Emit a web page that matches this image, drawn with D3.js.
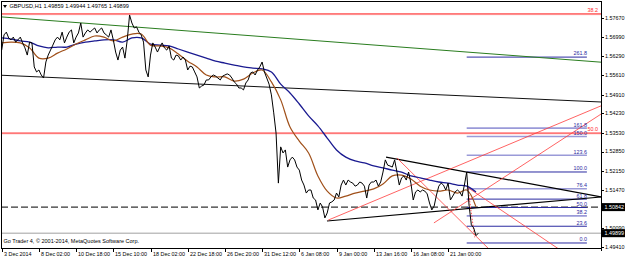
<!DOCTYPE html>
<html><head><meta charset="utf-8">
<script src="https://cdn.jsdelivr.net/npm/d3@7"></script>
<style>
body{margin:0;background:#fff}
svg{display:block}
text{font-family:"Liberation Sans",Arial,sans-serif}
</style></head>
<body><svg id="c" width="625" height="259"></svg>
<script>
// ---------- DATA ----------
const symbolHeader = "GBPUSD,H1  1.49859 1.49944 1.49765 1.49899";
const copyright = "Go Trader 4, © 2001-2014, MetaQuotes Software Corp.";
// closes sampled every 4 H1 bars (sample index j)
const closes = [
1.5652,1.5707,1.5717,1.5696,1.5689,1.5699,1.5681,1.5689,1.5699,1.5678,
1.5660,1.5634,1.5681,1.5678,1.5591,1.5573,1.5580,1.5562,1.5551,1.5609,
1.5634,1.5652,1.5670,1.5689,1.5699,1.5689,1.5717,1.5678,1.5699,1.5717,
1.5725,1.5678,1.5699,1.5714,1.5750,1.5699,1.5714,1.5725,1.5717,1.5725,
1.5732,1.5714,1.5725,1.5732,1.5714,1.5707,1.5699,1.5725,1.5689,1.5645,
1.5616,1.5652,1.5663,1.5623,1.5689,1.5779,1.5750,1.5732,1.5736,1.5717,
1.5707,1.5681,1.5580,1.5555,1.5634,1.5678,1.5663,1.5645,1.5663,1.5678,
1.5660,1.5652,1.5667,1.5623,1.5616,1.5634,1.5631,1.5616,1.5627,1.5616,
1.5580,1.5594,1.5591,1.5573,1.5555,1.5515,1.5522,1.5526,1.5544,1.5544,
1.5555,1.5562,1.5558,1.5551,1.5544,1.5558,1.5562,1.5566,1.5562,1.5551,
1.5537,1.5529,1.5515,1.5515,1.5508,1.5533,1.5544,1.5569,1.5573,1.5562,
1.5580,1.5591,1.5609,1.5573,1.5551,1.5529,1.5490,1.5425,1.5352,1.5171,
1.5302,1.5280,1.5291,1.5229,1.5255,1.5265,1.5255,1.5229,1.5218,1.5182,
1.5164,1.5135,1.5146,1.5146,1.5117,1.5110,1.5074,1.5099,1.5085,1.5045,
1.5063,1.5099,1.5103,1.5110,1.5135,1.5121,1.5164,1.5182,1.5164,1.5182,
1.5175,1.5171,1.5160,1.5164,1.5175,1.5171,1.5160,1.5117,1.5164,1.5175,
1.5175,1.5182,1.5160,1.5175,1.5211,1.5255,1.5236,1.5233,1.5229,1.5255,
1.5211,1.5164,1.5190,1.5197,1.5182,1.5211,1.5171,1.5110,1.5139,1.5146,
1.5139,1.5146,1.5142,1.5132,1.5099,1.5074,1.5088,1.5128,1.5160,1.5171,
1.5164,1.5146,1.5171,1.5110,1.5124,1.5139,1.5146,1.5139,1.5124,1.5164,
1.5211,1.5092,1.5020,1.5009,1.4981,1.4990
];
// moving averages, one value every 16 bars (every 4th sample)
const maSlow = [
1.5696,1.5692,1.5685,1.5681,1.5667,1.5660,1.5663,1.5663,1.5674,1.5681,
1.5685,1.5689,1.5689,1.5681,1.5696,1.5696,1.5674,1.5670,1.5667,1.5656,
1.5645,1.5634,1.5623,1.5612,1.5605,1.5598,1.5591,1.5587,1.5584,1.5573,
1.5529,1.5497,1.5457,1.5414,1.5378,1.5334,1.5291,1.5265,1.5251,1.5244,
1.5233,1.5226,1.5218,1.5211,1.5197,1.5190,1.5182,1.5175,1.5171,1.5164,
1.5160,1.5139
];
const maFast = [
1.5678,1.5681,1.5678,1.5660,1.5623,1.5623,1.5641,1.5656,1.5674,1.5689,
1.5703,1.5699,1.5685,1.5699,1.5710,1.5710,1.5670,1.5667,1.5660,1.5638,
1.5612,1.5591,1.5562,1.5555,1.5555,1.5540,1.5547,1.5569,1.5580,1.5537,
1.5472,1.5374,1.5323,1.5280,1.5197,1.5142,1.5117,1.5124,1.5135,1.5142,
1.5150,1.5168,1.5197,1.5200,1.5186,1.5160,1.5146,1.5142,1.5146,1.5135,
1.5146,1.5085
];
const xTickLabels = ["3 Dec 2014","8 Dec 02:00","10 Dec 18:00","15 Dec 10:00","18 Dec 02:00",
 "22 Dec 18:00","26 Dec 20:00","31 Dec 12:00","6 Jan 08:00","9 Jan 00:00","13 Jan 16:00",
 "16 Jan 08:00","21 Jan 00:00"];
const yTickValues = [1.57670,1.56990,1.56290,1.55610,1.54910,1.54230,1.53530,1.52850,1.52150,1.51470,1.50090,1.49410];
const markedPrices = [1.50842, 1.49899]; // boxed labels
const dashedLevel = 1.50842;
const bidLevel = 1.49899;
// trend lines: [sampleIndex, price] anchors
const trendNames = ["green","black","triTop","triBot","redA","redB","redC1","redC2"];
const trendA = [[0,1.5772],[0,1.5561],[165.3,1.5265],[139.9,1.5034],[140.4,1.5037],[185.9,1.5027],[170,1.5262],[200.1,1.5157]];
const trendB = [[200,1.5645],[200,1.5486],[250,1.5133],[250,1.5115],[250,1.5423],[250,1.5378],[210,1.4929],[239,1.4936]];
const trendExtendLeft = [true,true,false,false,false,false,false,false];
// short dotted projection after the last spike
const dottedA = [200.6,1.5150], dottedB = [203.4,1.4975];
// big fibo horizontal levels
const bigFiboLabels = ["38.2","50.0"];
const bigFiboPrices = [1.5783,1.5352];
// fibo expansion
const fibLevels = [0,23.6,38.2,50,61.8,76.4,100,123.6,150,161.8,261.8];
const fibLabels = ["0.0","23.6","38.2","50.0","61.8","76.4","100.0","123.6","150.0","161.8","261.8"];
const fib0Price = 1.49544, fib100Price = 1.52112;
const fibStartIdx = 200, fibEndIdx = 251.7;

// ---------- STYLE / LAYOUT ----------
const svg = d3.select('#c');
const L=1, R=601, T=1, B=248;
const x = d3.scaleLinear().domain([0,192]).range([1.7,448.1]);
const y = d3.scaleLinear().domain([1.49410,1.57670]).range([246.7,18.3]);
const FS = 5.4;
const trendStyle = {
 green:{c:"#2a7d1f",w:1}, black:{c:"#111",w:1}, triTop:{c:"#000",w:1.2}, triBot:{c:"#000",w:1.2},
 redA:{c:"#ff3b3b",w:0.8}, redB:{c:"#ff3b3b",w:0.8}, redC1:{c:"#ff3b3b",w:0.8}, redC2:{c:"#ff3b3b",w:0.8}
};
const lightFib = new Set(["38.2","76.4","123.6","150.0","161.8"]);

svg.append("rect").attr("width",625).attr("height",259).attr("fill","#fff");
svg.append("clipPath").attr("id","clip").append("rect").attr("x",L).attr("y",T).attr("width",R-L).attr("height",B-T);
const g = svg.append("g").attr("clip-path","url(#clip)");

// horizontal levels
bigFiboPrices.forEach((p,i)=>{
  g.append("line").attr("x1",L).attr("x2",R).attr("y1",y(p)+0.8).attr("y2",y(p)+0.8).attr("stroke","#ffc0c0").attr("stroke-width",1);
  g.append("line").attr("x1",L).attr("x2",R).attr("y1",y(p)).attr("y2",y(p)).attr("stroke","#ff2a2a").attr("stroke-width",1);
  svg.append("text").attr("x",598).attr("y",y(p)-1.8).attr("text-anchor","end").attr("font-size",FS).attr("fill","#ff2a2a").text(bigFiboLabels[i]);
});
g.append("line").attr("x1",L).attr("x2",R).attr("y1",y(dashedLevel)).attr("y2",y(dashedLevel))
 .attr("stroke","#000").attr("stroke-width",1).attr("stroke-dasharray","7,3");
g.append("line").attr("x1",L).attr("x2",R).attr("y1",y(bidLevel)).attr("y2",y(bidLevel))
 .attr("stroke","#a0a0a0").attr("stroke-width",1);

// fibo expansion
fibLevels.forEach((lv,i)=>{
  const p = fib0Price + (fib100Price-fib0Price)*lv/100;
  const light = lightFib.has(fibLabels[i]);
  g.append("line").attr("x1",x(fibStartIdx)).attr("x2",x(fibEndIdx)).attr("y1",y(p)).attr("y2",y(p))
   .attr("stroke",light?"#9a9ad8":"#2a2aa0").attr("stroke-width",light?1.6:1);
  svg.append("text").attr("x",x(fibEndIdx)).attr("y",y(p)-1.6).attr("text-anchor","end").attr("font-size",FS)
   .attr("fill","#2a2aa0").text(fibLabels[i]);
});

// trend lines
const tLeft = x.invert(L), tRight = x.invert(R);
trendNames.forEach((n,i)=>{
  const [t1,p1] = trendA[i], [t2,p2] = trendB[i];
  const s = (p2-p1)/(t2-t1);
  const ta = trendExtendLeft[i] ? tLeft : t1;
  const tb = tRight;
  const st = trendStyle[n];
  g.append("line").attr("x1",x(ta)).attr("y1",y(p1+s*(ta-t1))).attr("x2",x(tb)).attr("y2",y(p1+s*(tb-t1)))
   .attr("stroke",st.c).attr("stroke-width",st.w);
});
g.append("line").attr("x1",x(dottedA[0])).attr("y1",y(dottedA[1])).attr("x2",x(dottedB[0])).attr("y2",y(dottedB[1]))
 .attr("stroke","#ff3b3b").attr("stroke-width",0.9).attr("stroke-dasharray","1.5,1.5");

// MAs
const maLine = d3.line().x((d,i)=>x(i*4)).y(d=>y(d)).curve(d3.curveCatmullRom);
g.append("path").datum(maSlow).attr("d",maLine).attr("fill","none").attr("stroke","#1a1a90").attr("stroke-width",1.3);
g.append("path").datum(maFast).attr("d",maLine).attr("fill","none").attr("stroke","#a0501a").attr("stroke-width",1.2);

// price
const pLine = d3.line().x((d,i)=>x(i)).y(d=>y(d));
g.append("path").datum(closes).attr("d",pLine).attr("fill","none").attr("stroke","#000").attr("stroke-width",1);

// frame
svg.append("line").attr("x1",L).attr("x2",R).attr("y1",T+0.5).attr("y2",T+0.5).attr("stroke","#000");
svg.append("line").attr("x1",L+0.5).attr("x2",L+0.5).attr("y1",T).attr("y2",B).attr("stroke","#000");
svg.append("line").attr("x1",R+0.5).attr("x2",R+0.5).attr("y1",T).attr("y2",B+3).attr("stroke","#000");
svg.append("line").attr("x1",L).attr("x2",R).attr("y1",B+0.5).attr("y2",B+0.5).attr("stroke","#000");

// y axis
yTickValues.forEach(v=>{
  svg.append("line").attr("x1",R).attr("x2",R+3).attr("y1",Math.round(y(v))+0.5).attr("y2",Math.round(y(v))+0.5).attr("stroke","#000");
  svg.append("text").attr("x",R+4).attr("y",y(v)).attr("dy","0.35em").attr("font-size",FS).attr("fill","#000").text(v.toFixed(5));
});
markedPrices.forEach(v=>{
  svg.append("rect").attr("x",R+1).attr("y",y(v)-4).attr("width",24).attr("height",8).attr("fill","#000");
  svg.append("text").attr("x",R+3.5).attr("y",y(v)).attr("dy","0.35em").attr("font-size",FS).attr("fill","#fff").text(v.toFixed(5));
});

// x axis
xTickLabels.forEach((s,i)=>{
  const px = Math.round(x(i*16))+0.5;
  svg.append("line").attr("x1",px).attr("x2",px).attr("y1",B).attr("y2",B+4).attr("stroke","#000");
  svg.append("text").attr("x",px+1.5).attr("y",256).attr("font-size",FS).attr("fill","#000").text(s);
});

// header
svg.append("path").attr("d","M3,5 L7,5 L5,8 Z").attr("fill","#000");
svg.append("text").attr("x",9.5).attr("y",8.2).attr("font-size",5.6).attr("fill","#000").text(symbolHeader);
svg.append("text").attr("x",3.5).attr("y",243).attr("font-size",5.5).attr("fill","#000").text(copyright);
</script></body></html>
